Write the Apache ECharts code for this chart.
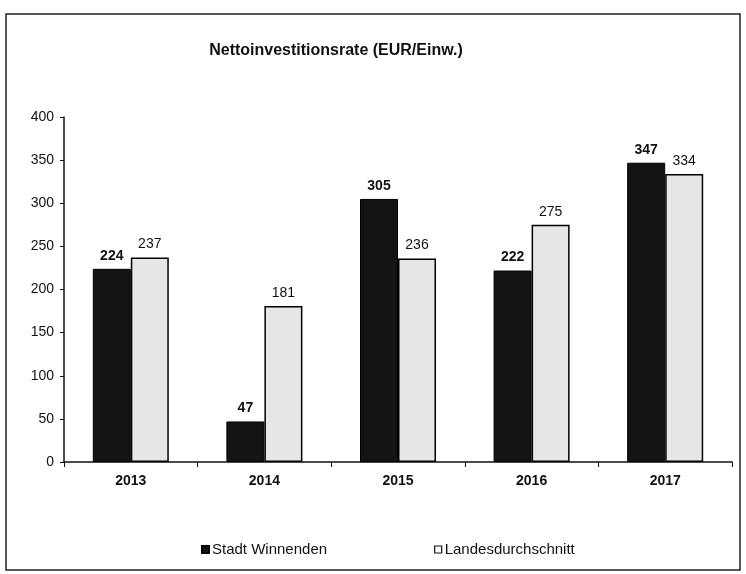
<!DOCTYPE html>
<html><head><meta charset="utf-8">
<script src="https://cdn.jsdelivr.net/npm/echarts@6/dist/echarts.min.js"></script>
<style>html,body{margin:0;padding:0;background:#fff}#c{width:746px;height:574px}</style>
</head><body><div id="c"></div>
<script>
const categories = ['2013','2014','2015','2016','2017'];
const stadt = [224, 47, 305, 222, 347];
const land = [237, 181, 236, 275, 334];
const yTicks = [0, 50, 100, 150, 200, 250, 300, 350, 400];

const font = 'Liberation Sans, Arial, sans-serif';
const chart = echarts.init(document.getElementById('c'));
chart.setOption({
  animation: false,
  backgroundColor: '#fff',
  title: {
    text: 'Nettoinvestitionsrate (EUR/Einw.)',
    left: 331, top: 38, textAlign: 'center',
    textStyle: {fontFamily: font, fontSize: 16, fontWeight: 'bold', color: '#111'}
  },
  graphic: [{
    type: 'rect', shape: {x: 6, y: 14, width: 734, height: 556},
    style: {fill: 'none', stroke: '#222', lineWidth: 1.5}, silent: true
  }],
  legend: {
    top: 537, left: 196, itemGap: 107, itemWidth: 7, itemHeight: 7,
    icon: 'rect',
    textStyle: {fontFamily: font, fontSize: 15, color: '#111', padding: [0,0,0,-2]},
    data: [
      {name: 'Stadt Winnenden'},
      {name: 'Landesdurchschnitt', itemStyle: {color: '#fff', borderColor: '#111', borderWidth: 1.2}}
    ]
  },
  grid: {left: 64, right: 14, top: 117, bottom: 112},
  xAxis: {
    type: 'category', data: categories,
    axisLine: {lineStyle: {color: '#111', width: 1.5}},
    axisTick: {show: true, inside: false, length: 5, lineStyle: {color: '#111'}},
    axisLabel: {fontFamily: font, fontSize: 14, fontWeight: 'bold', color: '#111', margin: 12}
  },
  yAxis: {
    type: 'value', min: 0, max: 400, interval: 50,
    axisLine: {show: true, lineStyle: {color: '#111', width: 1.5}},
    axisTick: {show: true, length: 4, lineStyle: {color: '#111'}},
    splitLine: {show: false},
    axisLabel: {fontFamily: font, fontSize: 14, color: '#111', margin: 10,
      formatter: v => yTicks.includes(v) ? String(v) : ''}
  },
  series: [
    {
      name: 'Stadt Winnenden', type: 'bar', data: stadt, barWidth: 38, barGap: '0%',
      itemStyle: {color: '#141414', borderColor: '#000', borderWidth: 1},
      label: {show: true, position: 'top', distance: 6, fontFamily: font, fontSize: 14, fontWeight: 'bold', color: '#111'}
    },
    {
      name: 'Landesdurchschnitt', type: 'bar', data: land, barWidth: 38,
      itemStyle: {color: '#e6e6e6', borderColor: '#000', borderWidth: 1.5},
      label: {show: true, position: 'top', distance: 6, fontFamily: font, fontSize: 14, color: '#111'}
    }
  ]
});
</script></body></html>
